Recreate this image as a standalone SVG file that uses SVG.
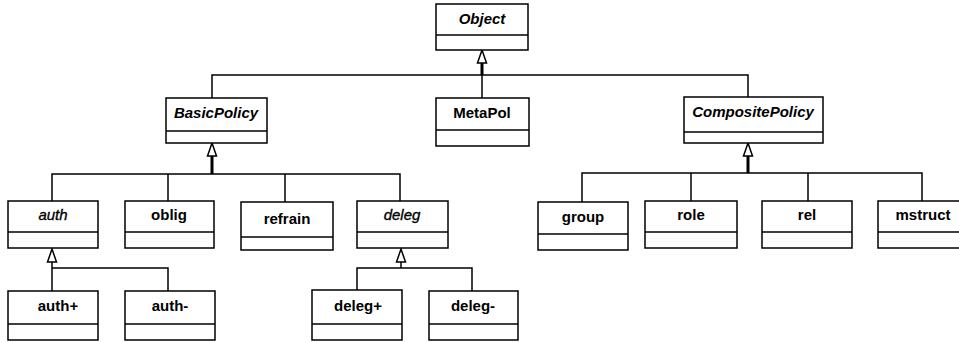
<svg xmlns="http://www.w3.org/2000/svg" width="959" height="343" viewBox="0 0 959 343">
<style>
.box{fill:#fff;stroke:#000;stroke-width:1.5}
.div{stroke:#000;stroke-width:1.5}
.t{font-family:"Liberation Sans",Arial,sans-serif;font-size:15px;font-weight:bold;text-anchor:middle;fill:#000}
.it{font-style:italic}
.nb{font-weight:normal;stroke:#000;stroke-width:0.35}
.ln{fill:none;stroke:#000;stroke-width:1.5}
.stem{fill:none;stroke:#000;stroke-width:3}
.tri{fill:#fff;stroke:#000;stroke-width:1.5}
</style>
<rect width="959" height="343" fill="#fff"/>
<g id="connectors">
  <path class="tri" d="M482,50 L486.5,63 L477.5,63 Z"/>
  <path class="stem" d="M482,63 V75"/>
  <path class="ln" d="M212,98 V75 H748 V97 M482,75 V98"/>
  <path class="tri" d="M212,143 L216.5,156 L207.5,156 Z"/>
  <path class="stem" d="M212,156 V174"/>
  <path class="ln" d="M52,201 V174 H400 V201 M168,174 V201 M285,174 V202"/>
  <path class="tri" d="M748,143 L752.5,156 L743.5,156 Z"/>
  <path class="stem" d="M748,156 V173"/>
  <path class="ln" d="M582,202 V173 H922 V201 M691,173 V201 M808,173 V201"/>
  <path class="tri" d="M52,249 L56.5,262 L47.5,262 Z"/>
  <path class="ln" d="M52,262 V291 M52,268 H168 V291"/>
  <path class="tri" d="M401,249 L405.5,262 L396.5,262 Z"/>
  <path class="ln" d="M401,262 V268 M357,290 V268 H472 V291"/>
</g>
<g id="Object"><rect class="box" x="436" y="4" width="92" height="46"/><line class="div" x1="436" y1="35" x2="528" y2="35"/><text class="t it" x="482" y="24">Object</text></g>
<g id="BasicPolicy"><rect class="box" x="166" y="98" width="101" height="45"/><line class="div" x1="166" y1="131" x2="267" y2="131"/><text class="t it" x="216" y="118">BasicPolicy</text></g>
<g id="MetaPol"><rect class="box" x="436" y="98" width="93" height="48"/><line class="div" x1="436" y1="130" x2="529" y2="130"/><text class="t" x="482" y="118">MetaPol</text></g>
<g id="CompositePolicy"><rect class="box" x="684" y="97" width="139" height="46"/><line class="div" x1="684" y1="132" x2="823" y2="132"/><text class="t it" x="753" y="117">CompositePolicy</text></g>
<g id="auth"><rect class="box" x="8" y="201" width="90" height="47"/><line class="div" x1="8" y1="232" x2="98" y2="232"/><text class="t it nb" x="53" y="220">auth</text></g>
<g id="oblig"><rect class="box" x="125" y="201" width="89" height="47"/><line class="div" x1="125" y1="232" x2="214" y2="232"/><text class="t" x="169" y="220">oblig</text></g>
<g id="refrain"><rect class="box" x="241" y="202" width="92" height="48"/><line class="div" x1="241" y1="237" x2="333" y2="237"/><text class="t" x="287" y="224">refrain</text></g>
<g id="deleg"><rect class="box" x="357" y="201" width="91" height="47"/><line class="div" x1="357" y1="232" x2="448" y2="232"/><text class="t it nb" x="402" y="220">deleg</text></g>
<g id="group"><rect class="box" x="538" y="202" width="90" height="48"/><line class="div" x1="538" y1="234" x2="628" y2="234"/><text class="t" x="583" y="222">group</text></g>
<g id="role"><rect class="box" x="645" y="201" width="92" height="47"/><line class="div" x1="645" y1="232" x2="737" y2="232"/><text class="t" x="691" y="220">role</text></g>
<g id="rel"><rect class="box" x="762" y="201" width="90" height="47"/><line class="div" x1="762" y1="232" x2="852" y2="232"/><text class="t" x="807" y="220">rel</text></g>
<g id="mstruct"><rect class="box" x="878" y="201" width="90" height="47"/><line class="div" x1="878" y1="232" x2="968" y2="232"/><text class="t" x="923" y="220">mstruct</text></g>
<g id="auth_plus"><rect class="box" x="8" y="291" width="90" height="49"/><line class="div" x1="8" y1="324" x2="98" y2="324"/><text class="t" x="58" y="311">auth+</text></g>
<g id="auth_minus"><rect class="box" x="125" y="291" width="90" height="49"/><line class="div" x1="125" y1="324" x2="215" y2="324"/><text class="t" x="170" y="311">auth-</text></g>
<g id="deleg_plus"><rect class="box" x="312" y="290" width="90" height="50"/><line class="div" x1="312" y1="324" x2="402" y2="324"/><text class="t" x="358" y="311">deleg+</text></g>
<g id="deleg_minus"><rect class="box" x="429" y="291" width="89" height="49"/><line class="div" x1="429" y1="324" x2="518" y2="324"/><text class="t" x="473" y="311">deleg-</text></g>
</svg>
